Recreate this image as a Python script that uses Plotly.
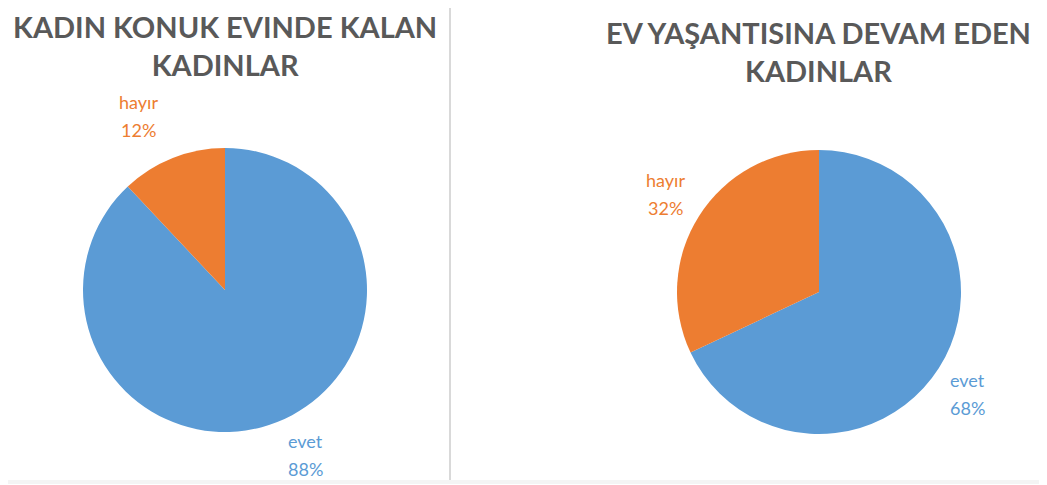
import plotly.graph_objects as go

# data
categories = ["evet", "hayır"]
konuk_evi = [88, 12]
ev_yasantisi = [68, 32]
titles = ["KADIN KONUK EVINDE KALAN<br>KADINLAR", "EV YAŞANTISINA DEVAM EDEN<br>KADINLAR"]

colors = ["#5B9BD5", "#ED7D31"]
W, H = 1047, 485
OFF = 8  # page body margin


def px(x, y):
    return (x - OFF) / W, 1 - (y - OFF) / H


def dom(cx, cy, r):
    # pixel centre/radius -> paper domain
    x0, y0 = px(cx - r, cy + r)
    x1, y1 = px(cx + r, cy - r)
    return dict(x=[x0, x1], y=[y0, y1])


fig = go.Figure()
for vals, d in [(konuk_evi, dom(225, 290, 142)), (ev_yasantisi, dom(819, 292, 142))]:
    fig.add_trace(go.Pie(
        labels=categories,
        values=vals,
        sort=False,
        direction="clockwise",
        rotation=0,
        domain=d,
        marker=dict(colors=colors, line=dict(width=0)),
        textinfo="none",
        showlegend=False,
        hoverinfo="label+percent",
    ))

# titles
for t, (x, y) in zip(titles, [(225, 46), (818, 51)]):
    ax, ay = px(x, y)
    fig.add_annotation(text=t, x=ax, y=ay, xref="paper", yref="paper",
                       xanchor="center", yanchor="middle", showarrow=False,
                       font=dict(family="Lato", size=29, color="#595959", weight="bold"))

# slice labels (label on one line, percent below)
label_pos = [
    [(305, 441), (138, 102)],   # konuk evi: evet, hayır
    [(967, 380), (665, 180)],   # ev yasantisi: evet, hayır
]
for vals, positions in zip([konuk_evi, ev_yasantisi], label_pos):
    for cat, v, col, (x, y) in zip(categories, vals, colors, positions):
        for line, dy in [(cat, 0), (f"{v}%", 28)]:
            ax, ay = px(x, y + dy)
            fig.add_annotation(text=line, x=ax, y=ay, xref="paper", yref="paper",
                               xanchor="center", yanchor="middle", showarrow=False,
                               font=dict(family="Lato", size=18, color=col))

# divider between the two charts
x0, _ = px(450, 0)
fig.add_shape(type="line", x0=x0, x1=x0, y0=px(0, 480)[1], y1=1.02, xref="paper", yref="paper",
              line=dict(color="#d9d9d9", width=2))
# faint bottom edge
fig.add_shape(type="line", x0=0, x1=1, y0=px(0, 482)[1], y1=px(0, 482)[1], xref="paper", yref="paper",
              line=dict(color="#f4f4f4", width=4))

fig.update_layout(
    width=W, height=H,
    margin=dict(l=0, r=0, t=0, b=0),
    paper_bgcolor="white",
    plot_bgcolor="white",
)

fig.write_html("out.html")
